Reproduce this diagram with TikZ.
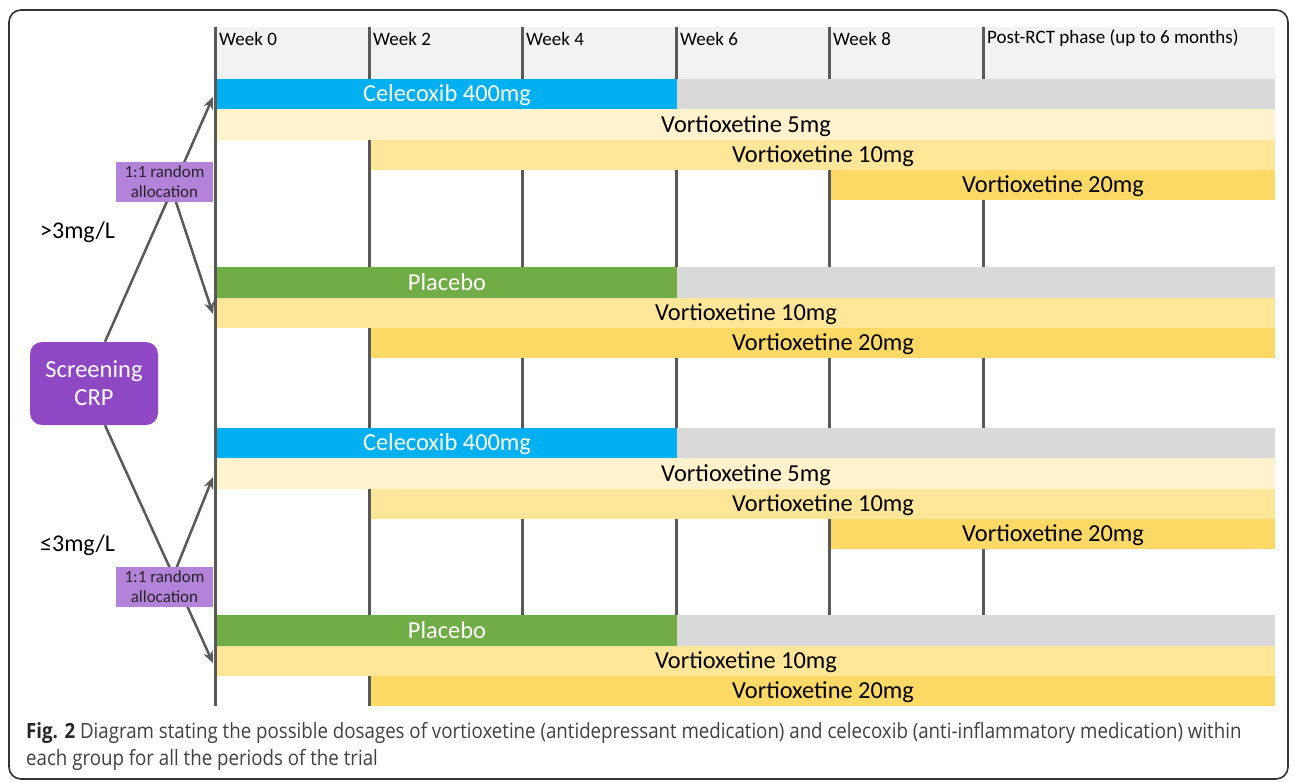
\documentclass[tikz,border=0pt]{standalone}
\usepackage{fontspec}
\setmainfont{Carlito}
\newfontfamily\capfont[FakeStretch=0.89]{Open Sans}
\usetikzlibrary{arrows.meta}
\definecolor{celc}{HTML}{00B0F0}
\definecolor{plac}{HTML}{70AD47}
\definecolor{offc}{HTML}{D9D9D9}
\definecolor{vfive}{HTML}{FFF2CC}
\definecolor{vten}{HTML}{FFE699}
\definecolor{vtwenty}{HTML}{FFD966}
\definecolor{hdrc}{HTML}{F2F2F2}
\definecolor{linec}{HTML}{595959}
\definecolor{scrc}{HTML}{8F48C4}
\definecolor{allc}{HTML}{B383D9}
\definecolor{captc}{HTML}{404040}
\tikzset{
  bar/.style={anchor=north west, inner sep=0pt, outer sep=0pt, draw=none, text depth=1pt, font=\fontsize{24.4}{28}\selectfont},
  wkline/.style={draw=linec, line width=3pt},
  wklab/.style={anchor=west, inner sep=0pt, font=\fontsize{19}{22}\selectfont},
  arr/.style={draw=linec, line width=2.5pt, -{Stealth[length=12pt,width=10pt]}},
  allocbox/.style={fill=allc, inner sep=0pt, minimum width=97pt, minimum height=40pt, align=center, text=black!85, font=\fontsize{17}{19.5}\selectfont},
  grplab/.style={anchor=west, inner sep=0pt, font=\fontsize{24}{28}\selectfont},
  capline/.style={anchor=base west, inner sep=0pt, text=captc, font=\capfont\fontsize{21}{24}\selectfont}
}
\begin{document}
\begin{tikzpicture}[x=1pt,y=-1pt]
\useasboundingbox (0,0) rectangle (1295,782);
\draw[rounded corners=12pt, line width=1.6pt, draw=black!80] (9,10) rectangle (1288,779);
\fill[hdrc] (215,27) rectangle (1275,79);
% week lines
\foreach \x in {215,369,522,676,829,983} \draw[wkline] (\x,27) -- (\x,706);
\node[wklab] (w0) at (219,38.5) {Week 0};
\node[wklab] (w2) at (373,38.5) {Week 2};
\node[wklab] (w4) at (526,38.5) {Week 4};
\node[wklab] (w6) at (680,38.5) {Week 6};
\node[wklab] (w8) at (833,38.5) {Week 8};
\node[wklab] (wp) at (987,38.5) {Post-RCT phase (up to 6 months)};
% group 1 bars
\node[bar, fill=celc, text=white, minimum width=460pt, minimum height=30pt] (celA) at (217,79) {Celecoxib 400mg};
\node[bar, fill=offc, minimum width=598pt, minimum height=30pt] (offA) at (677,79) {};
\node[bar, fill=vfive, minimum width=1058pt, minimum height=31pt] (vfA) at (217,109) {Vortioxetine 5mg};
\node[bar, fill=vten, minimum width=904pt, minimum height=30pt] (vtA) at (371,140) {Vortioxetine 10mg};
\node[bar, fill=vtwenty, minimum width=444pt, minimum height=30pt] (vwA) at (831,170) {Vortioxetine 20mg};
\node[bar, fill=plac, text=white, minimum width=460pt, minimum height=31pt] (plA) at (217,267) {Placebo};
\node[bar, fill=offc, minimum width=598pt, minimum height=31pt] (offB) at (677,267) {};
\node[bar, fill=vten, minimum width=1058pt, minimum height=30pt] (vtB) at (217,298) {Vortioxetine 10mg};
\node[bar, fill=vtwenty, minimum width=904pt, minimum height=30pt] (vwB) at (371,328) {Vortioxetine 20mg};
% group 2 bars
\node[bar, fill=celc, text=white, minimum width=460pt, minimum height=30pt] (celC) at (217,428) {Celecoxib 400mg};
\node[bar, fill=offc, minimum width=598pt, minimum height=30pt] (offC) at (677,428) {};
\node[bar, fill=vfive, minimum width=1058pt, minimum height=31pt] (vfC) at (217,458) {Vortioxetine 5mg};
\node[bar, fill=vten, minimum width=904pt, minimum height=30pt] (vtC) at (371,489) {Vortioxetine 10mg};
\node[bar, fill=vtwenty, minimum width=444pt, minimum height=30pt] (vwC) at (831,519) {Vortioxetine 20mg};
\node[bar, fill=plac, text=white, minimum width=460pt, minimum height=31pt] (plD) at (217,615) {Placebo};
\node[bar, fill=offc, minimum width=598pt, minimum height=31pt] (offD) at (677,615) {};
\node[bar, fill=vten, minimum width=1058pt, minimum height=30pt] (vtD) at (217,646) {Vortioxetine 10mg};
\node[bar, fill=vtwenty, minimum width=904pt, minimum height=30pt] (vwD) at (371,676) {Vortioxetine 20mg};
% screening
\node[fill=scrc, rounded corners=12pt, minimum width=128pt, minimum height=83pt, inner sep=0pt, align=center, text=white, font=\fontsize{24.5}{28}\selectfont] (scr) at (94,383.5) {Screening\\CRP};
% arrow targets
\coordinate (tA) at (213,97);
\coordinate (bA) at (213,314);
\coordinate (tC) at (213,477);
\coordinate (bC) at (213,663);
\coordinate (xA) at (171,187);
\coordinate (xC) at (174,574);
\draw[arr] ([xshift=11pt]scr.north) -- (tA);
\draw[arr] (xA) -- (bA);
\draw[arr] ([xshift=11pt]scr.south) -- (bC);
\draw[arr] (xC) -- (tC);
% allocation boxes
\node[allocbox] (alA) at (164.5,181.5) {1:1 random\\allocation};
\node[allocbox] (alC) at (164.5,586.5) {1:1 random\\allocation};
% group labels
\node[grplab] (gA) at (40,232) {>3mg/L};
\node[grplab] (gC) at (40,545) {≤3mg/L};
% caption
\node[capline] (capA) at (26,738) {{\bfseries\color{black!85}Fig. 2} Diagram stating the possible dosages of vortioxetine (antidepressant medication) and celecoxib (anti-inflammatory medication) within};
\node[capline] (capB) at (26,765) {each group for all the periods of the trial};
\end{tikzpicture}
\end{document}
